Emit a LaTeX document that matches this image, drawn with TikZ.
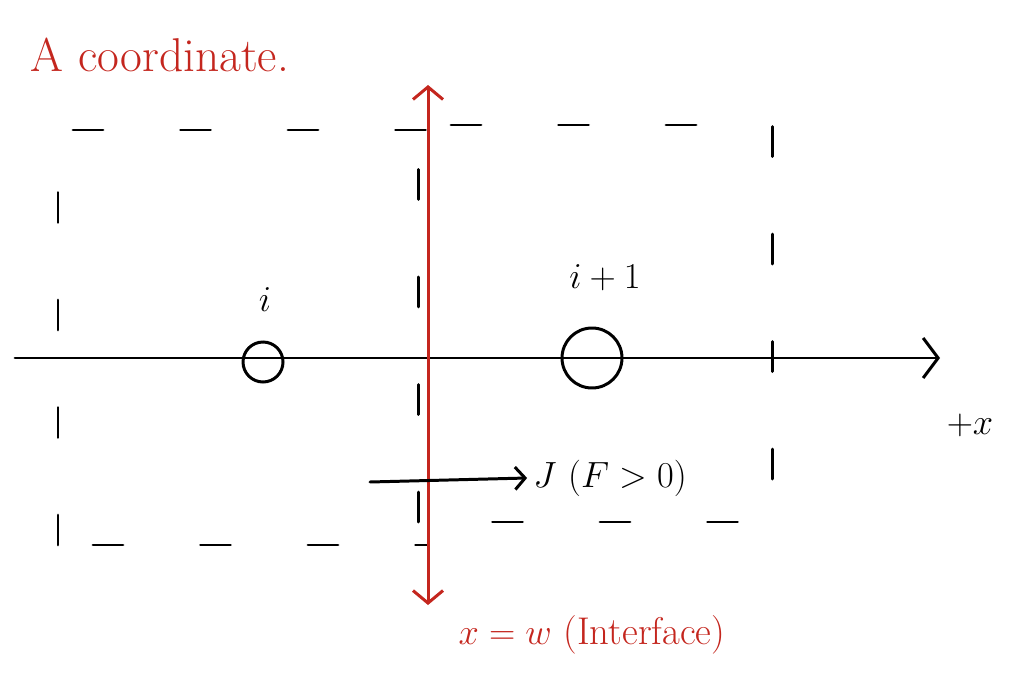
\documentclass[tikz,border=0pt]{standalone}
\usetikzlibrary{arrows.meta}
\definecolor{inkred}{RGB}{196,38,30}
\tikzset{
  ink/.style={line width=1.7pt, line cap=round},
  cell/.style={ink, dash pattern=on 0.6cm off 1.55cm},
  lbl/.style={font=\fontsize{22}{26}\selectfont},
  >={Straight Barb[length=0.3cm, width=0.8cm]}
}
\begin{document}
\begin{tikzpicture}
\useasboundingbox (0,0) rectangle (20.44,13.76);

% cells
\draw[cell] (1.16,2.86) rectangle (8.56,11.16);
\draw[cell] (8.36,3.32) rectangle (15.44,11.26);

% x axis
\coordinate (xl) at (0.3,6.6);
\coordinate (xr) at (18.8,6.6);
\draw[ink, ->] (xl) -- (xr);
\node[lbl] (plusx) at (19.4,5.26) {$+x$};

% grid points
\node[circle, draw, ink, minimum size=0.8cm] (pi) at (5.26,6.52) {};
\node[circle, draw, ink, minimum size=1.2cm] (pj) at (11.84,6.6) {};
\node[lbl] (li) at (5.3,7.76) {$i$};
\node[lbl] (lj) at (12.1,8.2) {$i+1$};

% interface
\coordinate (wt) at (8.56,12.06);
\coordinate (wb) at (8.56,1.66);
\draw[ink, inkred, <->, >={Straight Barb[length=0.25cm, width=0.6cm]}] (wb) -- (wt);
\node[lbl, text=inkred] (wlbl) at (11.84,1.06) {$x=w$ (Interface)};
\node[lbl, text=inkred, font=\fontsize{27}{32}\selectfont] (title) at (3.2,12.66) {A coordinate.};

% flux
\coordinate (js) at (7.4,4.12);
\node[lbl] (J) at (12.2,4.2) {$J$ $(F>0)$};
\draw[ink, ->, >={Straight Barb[length=0.2cm, width=0.45cm]}] (js) -- (J.west);
\end{tikzpicture}
\end{document}
